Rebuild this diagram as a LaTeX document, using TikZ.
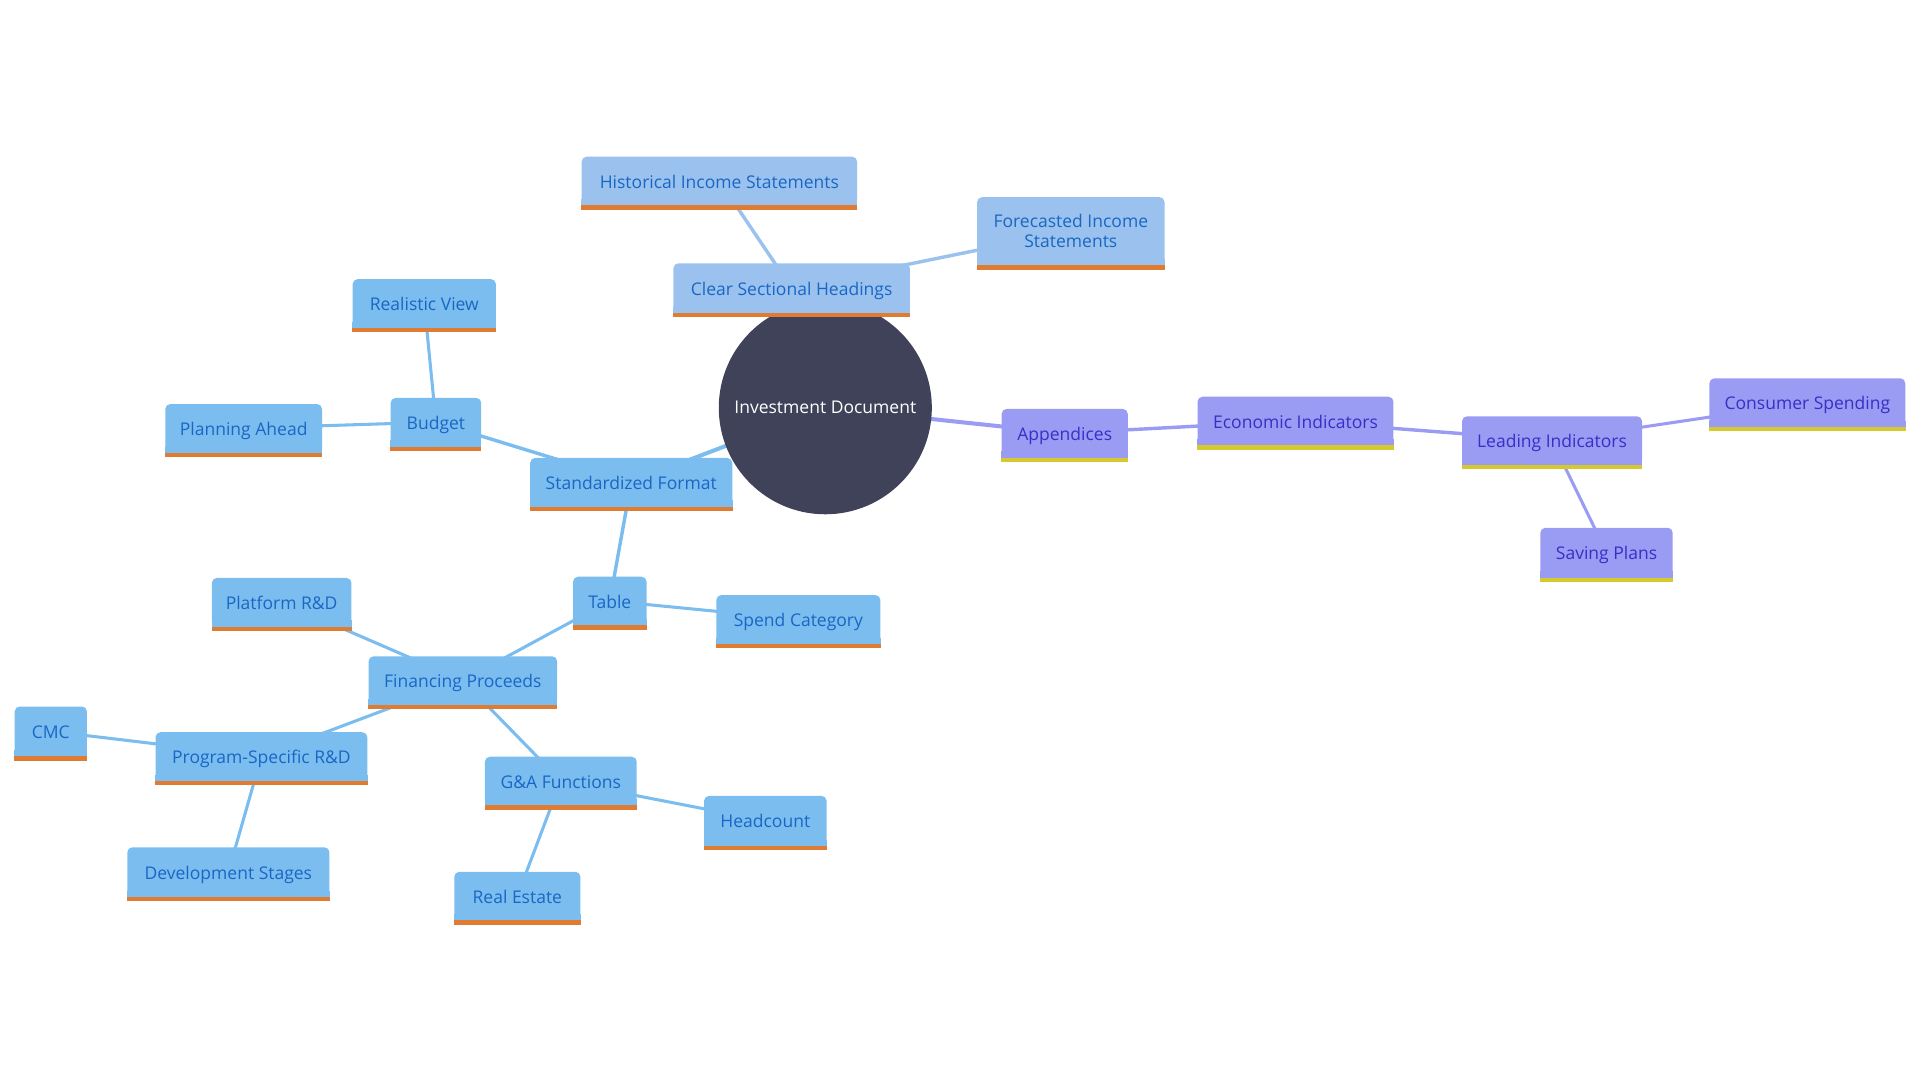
\documentclass[tikz,border=0pt]{standalone}
\usepackage{fontspec}
\setmainfont{Open Sans}
\usetikzlibrary{backgrounds}
\definecolor{bluefill}{HTML}{7CBDEF}
\definecolor{lightfill}{HTML}{9BC2EE}
\definecolor{purpfill}{HTML}{999CF2}
\definecolor{bluetext}{HTML}{1967C4}
\definecolor{purptext}{HTML}{3A2EC7}
\definecolor{orangebar}{HTML}{E07B32}
\definecolor{yellowbar}{HTML}{D5C92E}
\definecolor{rootfill}{HTML}{404259}
\tikzset{
  mmtext/.style={text height=11.8pt, text depth=0.2pt},
  mmnode/.style={rectangle, rounded corners=4pt, inner sep=0pt, align=center,
    font=\fontsize{14.3}{16}\selectfont, mmtext},
  rootnode/.style={circle, fill=rootfill, text=white, minimum size=174pt, inner sep=0pt,
    font=\fontsize{14.3}{16}\selectfont},
  edgeA/.style={line width=3.3pt},
  edgeB/.style={line width=2.8pt},
  edgeC/.style={line width=2.5pt},
}
% #1 name, #2 fill, #3 text colour, #4 bar colour, #5 L, #6 T, #7 R, #8 B, #9 label
\newcommand\mmbox[9]{%
  \pgfmathsetmacro\mmw{#7-#5}%
  \pgfmathsetmacro\mmh{#8-#6-3.5}%
  \pgfmathsetmacro\mmx{(#5+#7)/2}%
  \pgfmathsetmacro\mmy{(#6+#8-3.5)/2}%
  \node[mmnode, fill=#2, text=#3, minimum width=\mmw pt, minimum height=\mmh pt] (#1) at (\mmx,\mmy) {#9};
  \fill[#2] ([yshift=5pt]#1.south west) rectangle (#1.south east);
  \fill[#4] (#1.south west) rectangle ([yshift=-3.5pt]#1.south east);
}
\begin{document}
\begin{tikzpicture}[x=1pt,y=-1pt]
\useasboundingbox (0,0) rectangle (1568,882);
\node[rootnode] (root) at (674,333) {Investment Document};
% Clear branch
\mmbox{hist}{lightfill}{bluetext}{orangebar}{475}{128}{700}{171}{Historical Income Statements}
\begin{scope}[mmtext/.style={}]
\mmbox{fore}{lightfill}{bluetext}{orangebar}{798}{161}{951}{220}{Forecasted Income\\Statements}
\end{scope}
\mmbox{clear}{lightfill}{bluetext}{orangebar}{550}{215}{743}{259}{Clear Sectional Headings}
% Standardized branch
\mmbox{real}{bluefill}{bluetext}{orangebar}{288}{228}{405}{271}{Realistic View}
\mmbox{budget}{bluefill}{bluetext}{orangebar}{319}{325}{393}{368}{Budget}
\mmbox{plan}{bluefill}{bluetext}{orangebar}{135}{330}{263}{373}{Planning Ahead}
\mmbox{std}{bluefill}{bluetext}{orangebar}{433}{374}{598}{417}{Standardized Format}
\mmbox{table}{bluefill}{bluetext}{orangebar}{468}{471}{528}{514}{Table}
\mmbox{spend}{bluefill}{bluetext}{orangebar}{585}{486}{719}{529}{Spend Category}
\mmbox{platform}{bluefill}{bluetext}{orangebar}{173}{472}{287}{515}{Platform R\&D}
\mmbox{fin}{bluefill}{bluetext}{orangebar}{301}{536}{455}{579}{Financing Proceeds}
\mmbox{cmc}{bluefill}{bluetext}{orangebar}{12}{577}{71}{621}{CMC}
\mmbox{prog}{bluefill}{bluetext}{orangebar}{127}{598}{300}{641}{Program-Specific R\&D}
\mmbox{ga}{bluefill}{bluetext}{orangebar}{396}{618}{520}{661}{G\&A Functions}
\mmbox{head}{bluefill}{bluetext}{orangebar}{575}{650}{675}{694}{Headcount}
\mmbox{dev}{bluefill}{bluetext}{orangebar}{104}{692}{269}{736}{Development Stages}
\mmbox{estate}{bluefill}{bluetext}{orangebar}{371}{712}{474}{755}{Real Estate}
% Appendices branch
\mmbox{app}{purpfill}{purptext}{yellowbar}{818}{334}{921}{377}{Appendices}
\mmbox{econ}{purpfill}{purptext}{yellowbar}{978}{324}{1138}{367}{Economic Indicators}
\mmbox{lead}{purpfill}{purptext}{yellowbar}{1194}{340}{1341}{383}{Leading Indicators}
\mmbox{cons}{purpfill}{purptext}{yellowbar}{1396}{309}{1556}{352}{Consumer Spending}
\mmbox{save}{purpfill}{purptext}{yellowbar}{1258}{431}{1366}{475}{Saving Plans}
\begin{pgfonlayer}{background}
  \draw[edgeA, lightfill] (root.center) -- (clear.center);
  \draw[edgeB, lightfill] (clear.center) -- (hist.center);
  \draw[edgeB, lightfill] (clear.center) -- (fore.center);
  \draw[edgeA, bluefill] (root.center) -- (std.center);
  \draw[edgeB, bluefill] (std.center) -- (budget.center);
  \draw[edgeC, bluefill] (budget.center) -- (real.center);
  \draw[edgeC, bluefill] (budget.center) -- (plan.center);
  \draw[edgeB, bluefill] (std.center) -- (table.center);
  \draw[edgeC, bluefill] (table.center) -- (spend.center);
  \draw[edgeC, bluefill] (table.center) -- (fin.center);
  \draw[edgeC, bluefill] (fin.center) -- (platform.center);
  \draw[edgeC, bluefill] (fin.center) -- (prog.center);
  \draw[edgeC, bluefill] (fin.center) -- (ga.center);
  \draw[edgeC, bluefill] (prog.center) -- (cmc.center);
  \draw[edgeC, bluefill] (prog.center) -- (dev.center);
  \draw[edgeC, bluefill] (ga.center) -- (head.center);
  \draw[edgeC, bluefill] (ga.center) -- (estate.center);
  \draw[edgeA, purpfill] (root.center) -- (app.center);
  \draw[edgeB, purpfill] (app.center) -- (econ.center);
  \draw[edgeB, purpfill] (econ.center) -- (lead.center);
  \draw[edgeC, purpfill] (lead.center) -- (cons.center);
  \draw[edgeC, purpfill] (lead.center) -- (save.center);
\end{pgfonlayer}
\end{tikzpicture}
\end{document}
